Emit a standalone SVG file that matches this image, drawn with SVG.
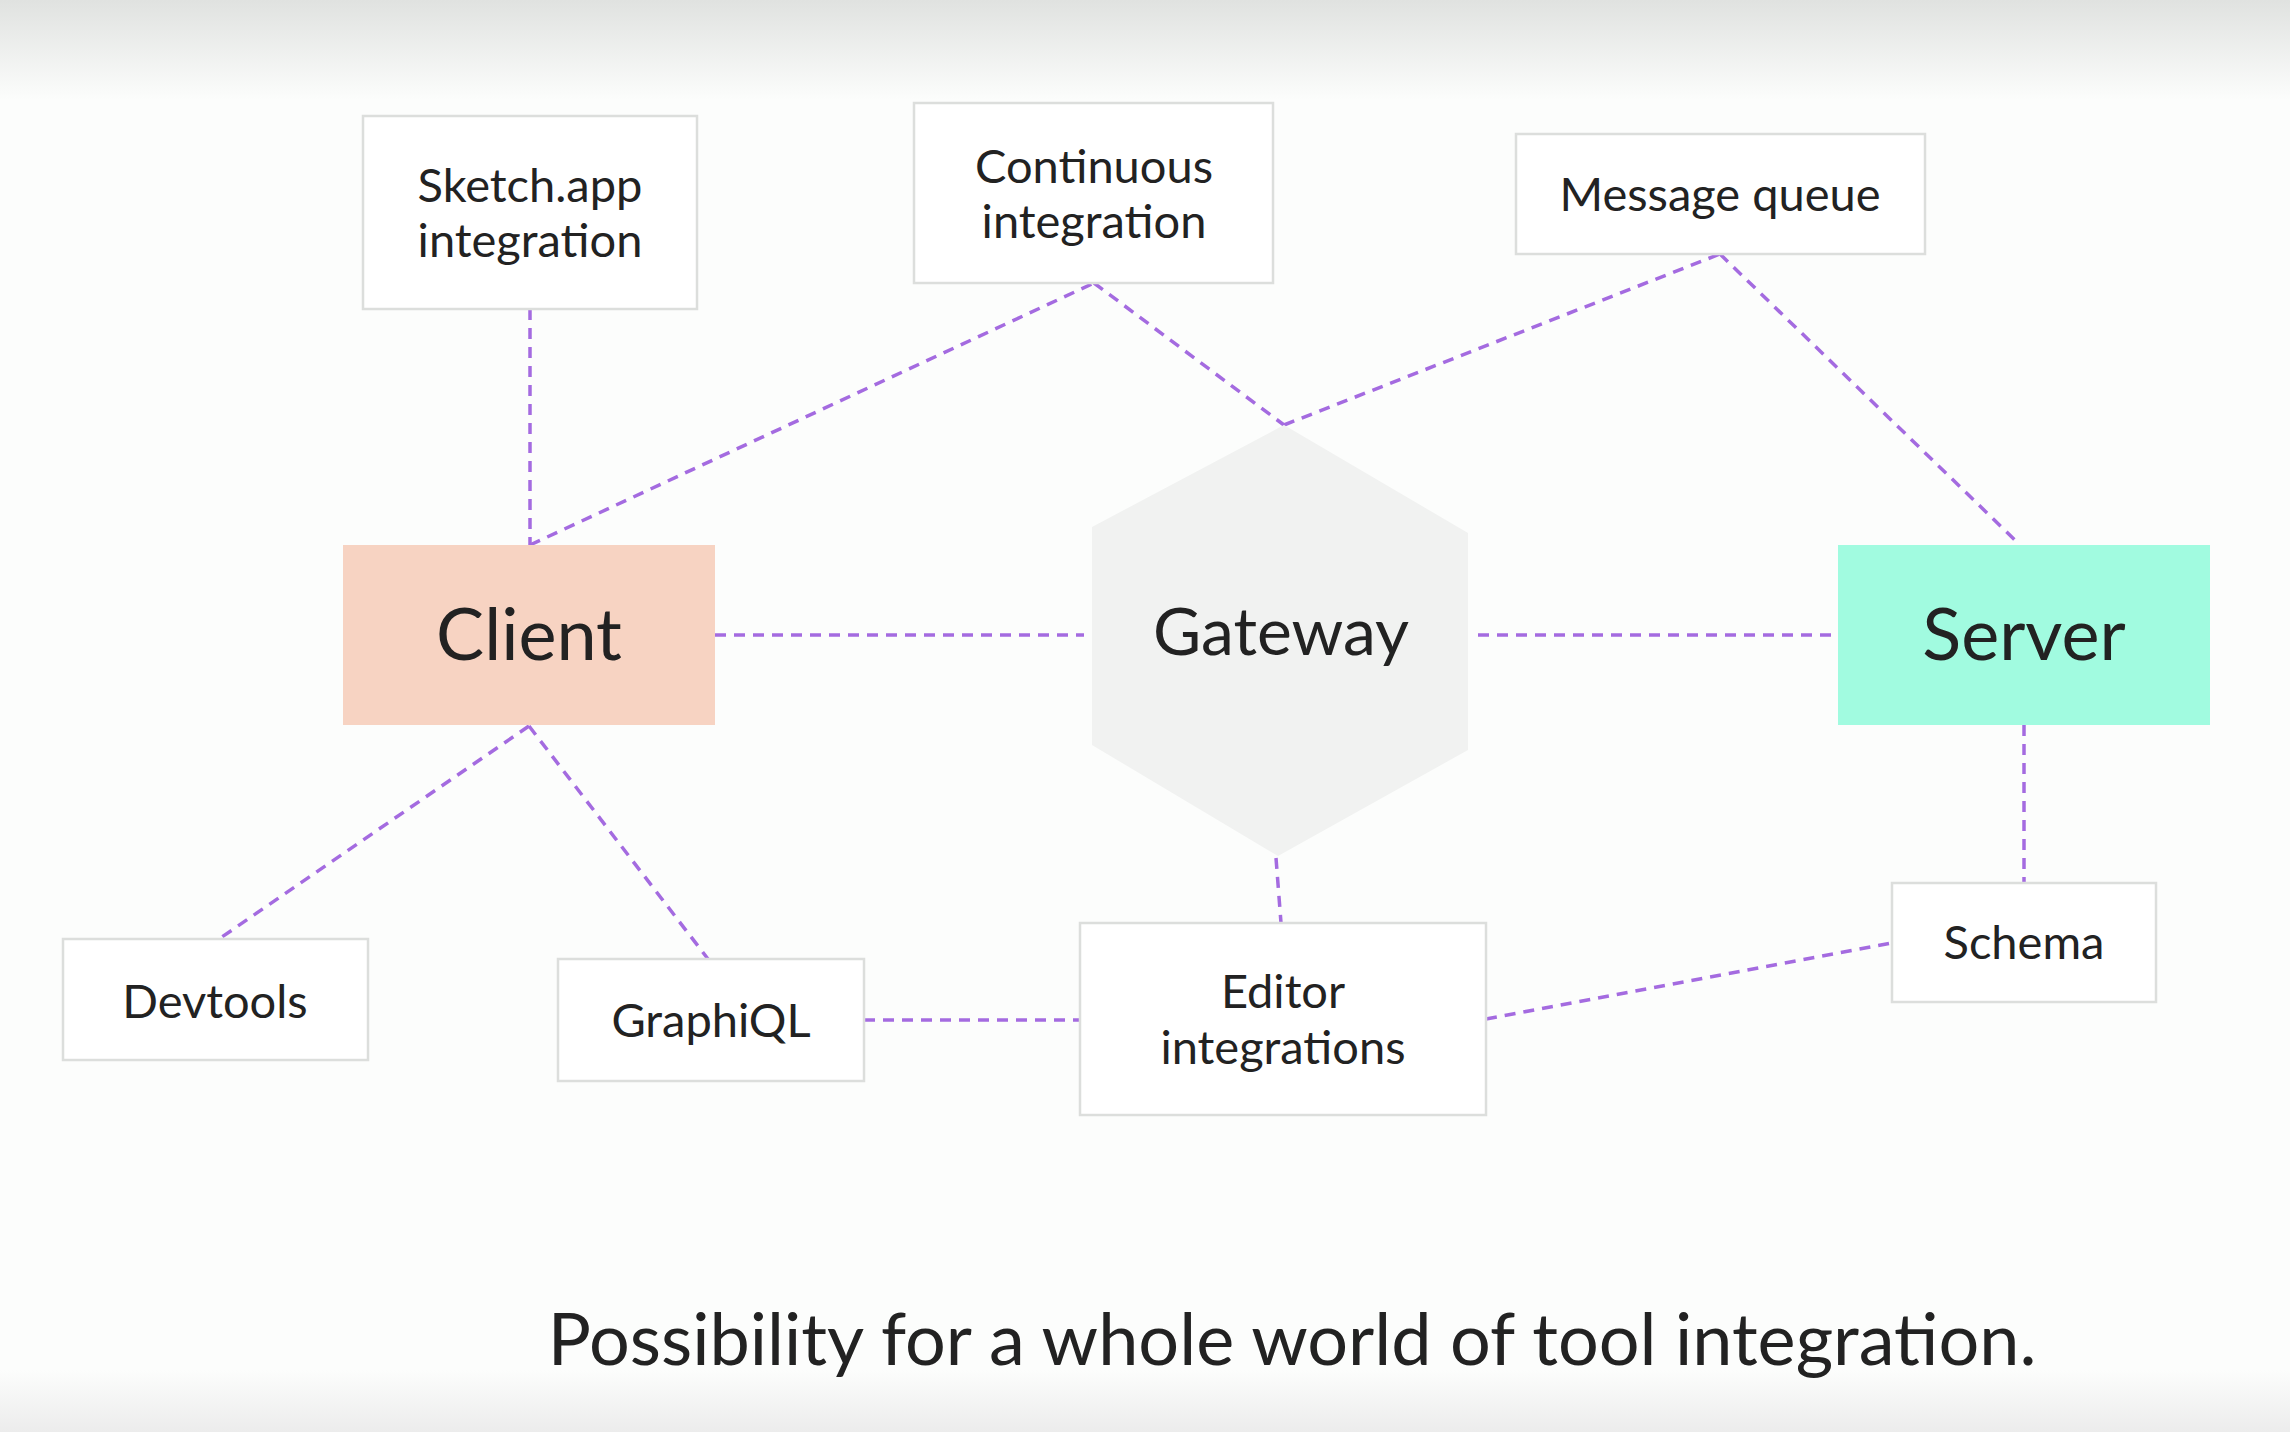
<svg xmlns="http://www.w3.org/2000/svg" width="2290" height="1432" viewBox="0 0 2290 1432">
<defs>
<linearGradient id="topg" x1="0" y1="0" x2="0" y2="1">
<stop offset="0" stop-color="#e0e2e0"/>
<stop offset="1" stop-color="#fcfdfc"/>
</linearGradient>
<linearGradient id="botg" x1="0" y1="0" x2="0" y2="1">
<stop offset="0" stop-color="#fcfdfc"/>
<stop offset="1" stop-color="#ececec"/>
</linearGradient>
<style>
.box{fill:#ffffff;stroke:#dcdedc;stroke-width:2.5}
.t{font-family:Lato,"Liberation Sans",sans-serif;fill:#222222;text-anchor:middle}
.s{font-size:47px}
.b{font-size:72px}
.c{stroke:#a46be0;stroke-width:3.5;stroke-dasharray:11 8;fill:none}
</style>
</defs>
<rect x="0" y="0" width="2290" height="1432" fill="#fcfdfc"/>
<rect x="0" y="0" width="2290" height="100" fill="url(#topg)"/>
<rect x="0" y="1370" width="2290" height="62" fill="url(#botg)"/>

<g id="connectors">
<line class="c" x1="530" y1="309" x2="530" y2="545"/>
<line class="c" x1="530" y1="545" x2="1094" y2="283"/>
<line class="c" x1="1094" y1="283" x2="1284" y2="425"/>
<line class="c" x1="1284" y1="425" x2="1720" y2="254"/>
<line class="c" x1="1720" y1="254" x2="2018" y2="543"/>
<line class="c" x1="715" y1="635" x2="1084" y2="635"/>
<line class="c" x1="1478" y1="635" x2="1838" y2="635"/>
<line class="c" x1="529" y1="726" x2="219" y2="939"/>
<line class="c" x1="529" y1="726" x2="708" y2="959"/>
<line class="c" x1="2024" y1="725" x2="2024" y2="883"/>
<line class="c" x1="1276" y1="858" x2="1281" y2="923"/>
<line class="c" x1="864" y1="1020" x2="1080" y2="1020"/>
<line class="c" x1="1486" y1="1019" x2="1892" y2="943"/>
</g>

<g id="sketch">
<rect class="box" x="363" y="116" width="334" height="193"/>
<text class="t s" x="530" y="202">Sketch.app</text>
<text class="t s" x="530" y="257">integration</text>
</g>
<g id="continuous">
<rect class="box" x="914" y="103" width="359" height="180"/>
<text class="t s" x="1094" y="183">Continuous</text>
<text class="t s" x="1094" y="238">integration</text>
</g>
<g id="message-queue">
<rect class="box" x="1516" y="134" width="409" height="120"/>
<text class="t s" x="1720" y="211">Message queue</text>
</g>
<g id="client">
<rect x="343" y="545" width="372" height="180" fill="#f7d3c2"/>
<text class="t b" x="529" y="660">Client</text>
</g>
<g id="gateway">
<polygon points="1284,425 1468,533 1468,750 1278,856 1092,745 1092,527" fill="#f1f2f1"/>
<text class="t" x="1281" y="655" font-size="66">Gateway</text>
</g>
<g id="server">
<rect x="1838" y="545" width="372" height="180" fill="#a1fbe0"/>
<text class="t b" x="2024" y="660">Server</text>
</g>
<g id="devtools">
<rect class="box" x="63" y="939" width="305" height="121"/>
<text class="t s" x="215" y="1018">Devtools</text>
</g>
<g id="graphiql">
<rect class="box" x="558" y="959" width="306" height="122"/>
<text class="t s" x="711" y="1037">GraphiQL</text>
</g>
<g id="editor">
<rect class="box" x="1080" y="923" width="406" height="192"/>
<text class="t s" x="1283" y="1008">Editor</text>
<text class="t s" x="1283" y="1064">integrations</text>
</g>
<g id="schema">
<rect class="box" x="1892" y="883" width="264" height="119"/>
<text class="t s" x="2024" y="959">Schema</text>
</g>
<text class="t" x="1292" y="1365" font-size="72">Possibility for a whole world of tool integration.</text>
</svg>
